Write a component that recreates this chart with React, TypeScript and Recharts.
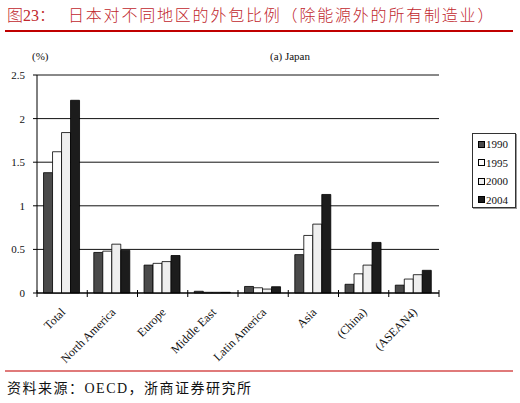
import React from "react";
import { BarChart, Bar, XAxis, YAxis, CartesianGrid, ReferenceLine } from "recharts";

const categories = ["Total", "North America", "Europe", "Middle East", "Latin America", "Asia", "(China)", "(ASEAN4)"];
const y1990 = [1.38, 0.465, 0.32, 0.02, 0.075, 0.44, 0.1, 0.09];
const y1995 = [1.62, 0.48, 0.34, 0.008, 0.06, 0.66, 0.22, 0.16];
const y2000 = [1.84, 0.56, 0.36, 0.008, 0.045, 0.79, 0.32, 0.21];
const y2004 = [2.21, 0.49, 0.43, 0.008, 0.072, 1.13, 0.58, 0.26];
const yTicks = [0, 0.5, 1, 1.5, 2, 2.5];

const series = [
  { key: "1990", values: y1990, fill: "#4a4a4a" },
  { key: "1995", values: y1995, fill: "#fdfdfd" },
  { key: "2000", values: y2000, fill: "#efefef" },
  { key: "2004", values: y2004, fill: "#1c1c1c" },
];

const data = categories.map((name, i) => {
  const row: Record<string, string | number> = { name };
  series.forEach((s) => (row[s.key] = s.values[i]));
  return row;
});

const SERIF = "Liberation Serif, Times New Roman, Times, DejaVu Serif, serif";
const CJK = "Liberation Serif, Times New Roman, Noto Sans CJK SC, serif";
const BAND = 402 / categories.length;

function XTick(props: any) {
  const { x, y, payload, index } = props;
  const half = BAND / 2;
  const tx = x + 4;
  const ty = y + 20;
  return (
    <g>
      <line x1={x - half} x2={x - half} y1={y - 3} y2={y + 4} stroke="#000" />
      {index === categories.length - 1 && (
        <line x1={x + half} x2={x + half} y1={y - 3} y2={y + 4} stroke="#000" />
      )}
      <text
        x={tx}
        y={ty}
        textAnchor="end"
        transform={`rotate(-45, ${tx}, ${ty})`}
        fontSize={12}
        fontFamily={SERIF}
        fill="#111"
      >
        {payload.value}
      </text>
    </g>
  );
}

export default function App() {
  return (
    <div
      style={{
        position: "absolute",
        left: 0,
        top: 0,
        width: 520,
        height: 403,
        background: "#fff",
        overflow: "hidden",
      }}
    >
      {/* title */}
      <div
        style={{
          position: "absolute",
          left: 7,
          top: 7,
          fontSize: 16,
          lineHeight: "18px",
          fontWeight: 300,
          color: "#c1272d",
          fontFamily: CJK,
          whiteSpace: "nowrap",
        }}
      >
        图23：
      </div>
      <div
        style={{
          position: "absolute",
          left: 68,
          top: 7,
          fontSize: 16,
          lineHeight: "18px",
          letterSpacing: 1.8,
          fontWeight: 300,
          color: "#c1272d",
          fontFamily: CJK,
          whiteSpace: "nowrap",
        }}
      >
        日本对不同地区的外包比例（除能源外的所有制造业）
      </div>
      <div style={{ position: "absolute", left: 5, top: 30, width: 508, height: 1.5, background: "#c00000" }} />

      {/* chart labels */}
      <div style={{ position: "absolute", left: 32, top: 50, fontSize: 11, fontFamily: SERIF, color: "#111" }}>(%)</div>
      <div
        style={{
          position: "absolute",
          left: 190,
          width: 200,
          top: 50,
          textAlign: "center",
          fontSize: 11,
          fontFamily: SERIF,
          color: "#111",
        }}
      >
        (a) Japan
      </div>

      <div style={{ position: "absolute", left: 0, top: 0 }}>
        <BarChart
          width={520}
          height={370}
          data={data}
          margin={{ top: 75, right: 81, bottom: 0, left: 0 }}
          barCategoryGap="13%"
          barGap={0}
        >
          <CartesianGrid vertical={false} stroke="#111" strokeWidth={1} yAxisId="l" />
          <XAxis
            dataKey="name"
            height={77}
            interval={0}
            tickSize={0}
            tickMargin={0}
            tickLine={false}
            axisLine={{ stroke: "#000" }}
            tick={<XTick />}
          />
          <YAxis
            yAxisId="l"
            width={37}
            domain={[0, 2.5]}
            ticks={yTicks}
            tickSize={4}
            tickMargin={8}
            axisLine={{ stroke: "#000" }}
            tickLine={{ stroke: "#000" }}
            tick={{ fontSize: 11, fontFamily: SERIF, fill: "#111" }}
          />
          <YAxis
            yAxisId="r"
            orientation="right"
            width={0}
            domain={[0, 2.5]}
            tick={false}
            tickLine={false}
            axisLine={{ stroke: "#808080" }}
          />
          <ReferenceLine yAxisId="l" y={2.5} stroke="#8a8a8a" />
          {series.map((s) => (
            <Bar
              key={s.key}
              yAxisId="l"
              dataKey={s.key}
              fill={s.fill}
              stroke="#000"
              strokeWidth={0.8}
              isAnimationActive={false}
            />
          ))}
        </BarChart>
      </div>

      {/* legend */}
      <div
        style={{
          position: "absolute",
          left: 472,
          top: 133,
          width: 44,
          height: 75,
          border: "1px solid #333",
          boxShadow: "1px 1px 0 #999",
          fontFamily: SERIF,
          fontSize: 11,
          color: "#111",
          boxSizing: "border-box",
          paddingTop: 1,
        }}
      >
        {series.map((s) => (
          <div
            key={s.key}
            style={{ display: "flex", alignItems: "center", height: 18.5, paddingLeft: 5, whiteSpace: "nowrap" }}
          >
            <span
              style={{
                display: "inline-block",
                width: 7,
                height: 7,
                background: s.fill,
                border: "1px solid #000",
                boxSizing: "border-box",
                marginRight: 1,
                flexShrink: 0,
              }}
            />
            {s.key}
          </div>
        ))}
      </div>

      {/* source */}
      <div style={{ position: "absolute", left: 5, top: 369.5, width: 508, height: 2, background: "#e07a7a" }} />
      <div
        style={{
          position: "absolute",
          left: 7,
          top: 381,
          fontSize: 14,
          lineHeight: "16px",
          letterSpacing: 1.5,
          color: "#111",
          fontFamily: CJK,
          whiteSpace: "nowrap",
        }}
      >
        资料来源：OECD，浙商证券研究所
      </div>
    </div>
  );
}
